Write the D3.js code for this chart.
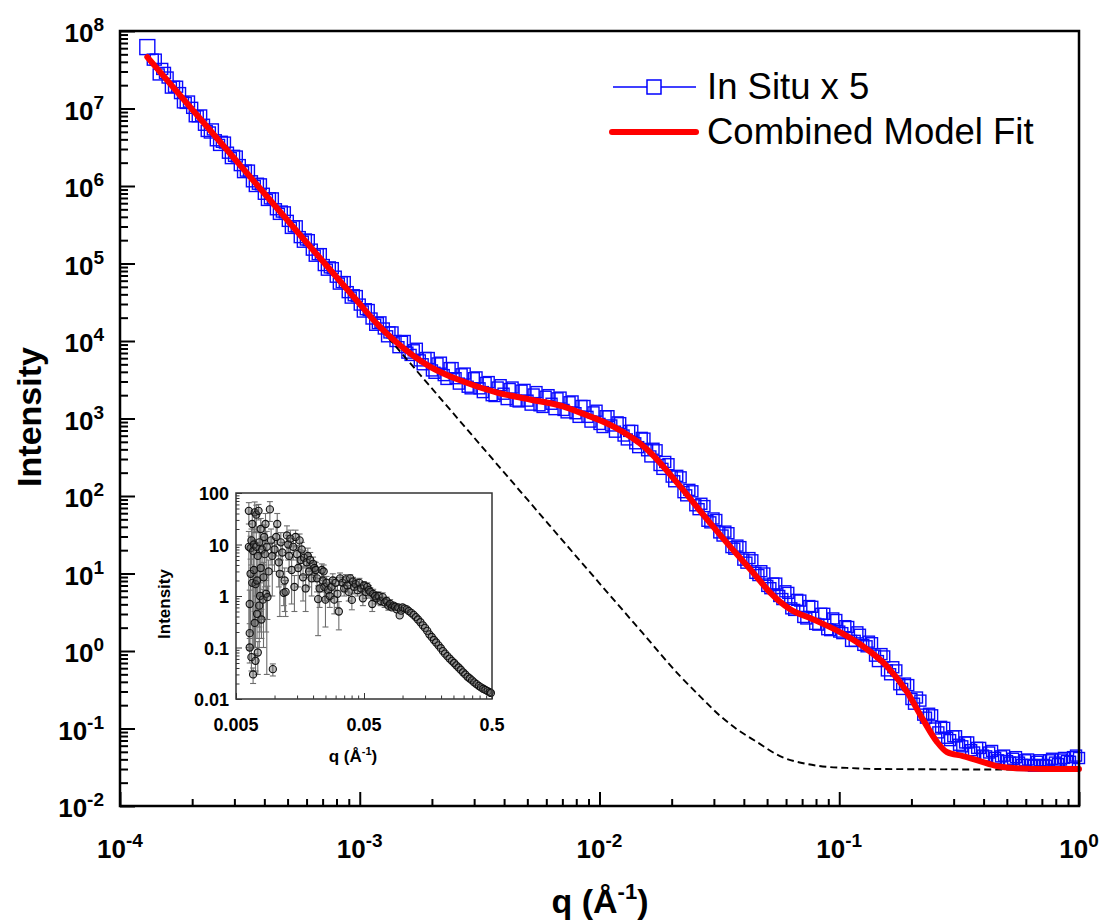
<!DOCTYPE html>
<html><head><meta charset="utf-8">
<script src="https://cdn.jsdelivr.net/npm/d3@7"></script>
<style>
body{margin:0;background:#fff}
svg{display:block}
text{font-family:"Liberation Sans",Arial,sans-serif}
</style>
</head><body>
<svg id="chart" width="1105" height="922"></svg>
<script>
// ---------------- data ----------------
const seriesNames = ["In Situ x 5", "Combined Model Fit"];

// In Situ x 5 (blue squares), first pass
const dataQ = [1.30e-4,1.41e-4,1.50e-4,1.58e-4,1.68e-4,1.78e-4,1.88e-4,2.00e-4,2.11e-4,2.24e-4,2.37e-4,
2.51e-4,2.66e-4,2.82e-4,2.99e-4,3.16e-4,3.35e-4,3.55e-4,3.76e-4,3.98e-4,4.22e-4,4.47e-4,4.73e-4,
5.01e-4,5.31e-4,5.62e-4,5.96e-4,6.31e-4,6.68e-4,7.08e-4,7.50e-4,7.94e-4,8.41e-4,8.91e-4,9.44e-4,
1.00e-3,1.06e-3,1.12e-3,1.19e-3,1.26e-3,1.33e-3,1.41e-3,1.50e-3,1.58e-3,1.68e-3,1.78e-3,1.88e-3,
2.00e-3,2.11e-3,2.24e-3,2.37e-3,2.51e-3,2.66e-3,2.82e-3,2.99e-3,3.16e-3,3.35e-3,3.55e-3,3.76e-3,
3.98e-3,4.22e-3,4.47e-3,4.73e-3,5.01e-3,5.31e-3,5.62e-3,5.96e-3,6.31e-3,6.68e-3,7.08e-3,7.50e-3,
7.94e-3,8.41e-3,8.91e-3,9.44e-3,1.00e-2,1.06e-2,1.12e-2,1.19e-2,1.26e-2,1.33e-2,1.41e-2,1.50e-2,
1.58e-2,1.68e-2,1.78e-2,1.88e-2,2.00e-2,2.11e-2,2.24e-2,2.37e-2,2.51e-2,2.66e-2,2.82e-2,2.99e-2,
3.16e-2,3.35e-2,3.55e-2,3.76e-2,3.98e-2,4.22e-2,4.47e-2,4.73e-2,5.01e-2,5.31e-2,5.62e-2,5.96e-2,
6.31e-2,6.68e-2,7.08e-2,7.50e-2,7.94e-2,8.41e-2,8.91e-2,9.44e-2,0.100,0.106,0.112,0.119,0.126,
0.133,0.141,0.150,0.158,0.168,0.178,0.188,0.200,0.211,0.224,0.237,0.251,0.266,0.282,0.299,0.316,
0.335,0.355,0.376,0.398,0.422,0.447,0.473,0.501,0.531,0.562,0.596,0.631,0.668,0.708,0.750,0.794,
0.841,0.891,0.944,1.00];
const dataI = [6.2e7,4.27e7,3.24e7,2.51e7,1.91e7,1.58e7,1.18e7,1.02e7,7.94e6,6.17e6,4.90e6,
3.89e6,3.72e6,2.69e6,2.45e6,1.86e6,1.58e6,1.15e6,1.07e6,7.94e5,6.92e5,5.01e5,4.68e5,
3.55e5,3.02e5,2.19e5,2.04e5,1.51e5,1.32e5,9.55e4,8.91e4,6.76e4,5.75e4,4.27e4,3.89e4,
2.95e4,2.57e4,1.95e4,1.70e4,1.45e4,1.29e4,1.00e4,9.77e3,7.08e3,7.59e3,5.62e3,6.03e3,
4.17e3,5.13e3,3.63e3,4.47e3,3.31e3,3.72e3,2.57e3,3.31e3,2.45e3,2.88e3,2.00e3,2.51e3,
2.09e3,2.40e3,1.70e3,2.29e3,1.70e3,2.04e3,1.48e3,1.91e3,1.55e3,1.82e3,1.29e3,1.62e3,
1.17e3,1.45e3,1.05e3,1.20e3,851,1070,813,891,603,692,479,562,
389,407,251,275,178,182,112,120,75.9,79.4,47.9,51.3,
33.9,34.7,21.9,22.9,15.1,15.8,10.2,10.7,6.92,7.41,5.13,5.89,
3.55,4.57,2.75,3.80,2.24,3.02,1.91,2.63,1.78,2.09,1.35,1.74,1.20,
1.32,0.871,0.912,0.562,0.617,0.372,0.380,0.240,0.251,0.151,0.155,0.100,0.105,0.0759,0.0794,0.0617,
0.0661,0.0525,0.0562,0.0447,0.0490,0.0417,0.0437,0.0380,0.0407,0.0363,0.0389,0.0339,0.0372,0.0339,0.0389,0.0363,
0.0398,0.0380,0.0427,0.0416];

// In Situ x 5, second (interleaved) pass
const dataQ2 = [1.37e-4,1.45e-4,1.54e-4,1.63e-4,1.73e-4,1.83e-4,1.94e-4,2.05e-4,2.18e-4,2.30e-4,2.44e-4,
2.59e-4,2.74e-4,2.90e-4,3.07e-4,3.26e-4,3.45e-4,3.65e-4,3.87e-4,4.10e-4,4.34e-4,4.60e-4,4.87e-4,
5.16e-4,5.46e-4,5.79e-4,6.13e-4,6.49e-4,6.88e-4,7.29e-4,7.72e-4,8.18e-4,8.66e-4,9.17e-4,9.72e-4,
1.03e-3,1.09e-3,1.16e-3,1.22e-3,1.30e-3,1.37e-3,1.45e-3,1.54e-3,1.63e-3,1.73e-3,1.83e-3,1.94e-3,
2.05e-3,2.18e-3,2.30e-3,2.44e-3,2.59e-3,2.74e-3,2.90e-3,3.07e-3,3.26e-3,3.45e-3,3.65e-3,3.87e-3,
4.10e-3,4.34e-3,4.60e-3,4.87e-3,5.16e-3,5.46e-3,5.79e-3,6.13e-3,6.49e-3,6.88e-3,7.29e-3,7.72e-3,
8.18e-3,8.66e-3,9.17e-3,9.72e-3,1.03e-2,1.09e-2,1.16e-2,1.22e-2,1.30e-2,1.37e-2,1.45e-2,1.54e-2,
1.63e-2,1.73e-2,1.83e-2,1.94e-2,2.05e-2,2.18e-2,2.30e-2,2.44e-2,2.59e-2,2.74e-2,2.90e-2,3.07e-2,
3.26e-2,3.45e-2,3.65e-2,3.87e-2,4.10e-2,4.34e-2,4.60e-2,4.87e-2,5.16e-2,5.46e-2,5.79e-2,6.13e-2,
6.49e-2,6.88e-2,7.29e-2,7.72e-2,8.18e-2,8.66e-2,9.17e-2,9.72e-2,0.103,0.109,0.116,0.122,0.130,
0.137,0.145,0.154,0.163,0.173,0.183,0.194,0.205,0.218,0.230,0.244,0.259,0.274,0.290,0.307,0.326,
0.345,0.365,0.387,0.410,0.434,0.460,0.487,0.516,0.546,0.579,0.613,0.649,0.688,0.729,0.772,0.818,
0.866,0.917,0.972];
const dataI2 = [4.27e7,2.75e7,2.88e7,1.86e7,1.91e7,1.20e7,1.23e7,7.94e6,8.13e6,5.13e6,5.37e6,
3.39e6,3.63e6,2.29e6,2.40e6,1.51e6,1.58e6,1.00e6,1.05e6,6.61e5,6.92e5,4.37e5,4.57e5,
2.88e5,3.02e5,1.91e5,2.00e5,1.26e5,1.32e5,8.32e4,8.71e4,5.50e4,5.75e4,3.63e4,3.80e4,
2.40e4,2.51e4,1.62e4,1.74e4,1.15e4,1.29e4,8.32e3,1.00e4,6.61e3,7.94e3,5.01e3,6.03e3,
3.89e3,5.25e3,3.24e3,4.47e3,2.82e3,3.80e3,2.45e3,3.39e3,2.19e3,2.95e3,1.95e3,2.69e3,
1.78e3,2.51e3,1.66e3,2.34e3,1.51e3,2.19e3,1.41e3,2.00e3,1.32e3,1.86e3,1.20e3,1.66e3,
1.05e3,1.45e3,912,1260,776,1070,676,871,537,692,427,550,
324,389,224,257,155,174,102,115,67.6,74.1,45.7,49.0,
30.9,33.1,20.9,21.9,13.8,14.8,9.55,10.0,6.46,7.41,4.68,5.62,
3.39,4.47,2.63,3.72,2.19,3.02,1.86,2.51,1.70,2.04,1.35,1.62,1.15,
1.26,0.741,0.851,0.501,0.562,0.324,0.363,0.209,0.229,0.138,0.148,0.0891,0.102,0.0708,0.0794,0.0589,
0.0661,0.0490,0.0562,0.0437,0.0513,0.0389,0.0447,0.0363,0.0427,0.0339,0.0398,0.0331,0.0389,0.0331,0.0407,0.0347,
0.0417,0.0372,0.0447];

// Combined Model Fit (red line)
const fitQ = [1.30e-4,3.0e-4,6.0e-4,9.74e-4,1.2e-3,1.43e-3,1.96e-3,2.70e-3,3.74e-3,5.13e-3,7.05e-3,8.3e-3,
1.14e-2,1.58e-2,2.17e-2,2.81e-2,3.50e-2,4.36e-2,5.14e-2,6.24e-2,7.76e-2,0.1007,0.1256,0.158,0.192,0.223,
0.256,0.281,0.328,0.386,0.455,0.531,0.736,1.0];
const fitI = [4.6e7,2.26e6,1.87e5,3.3e4,1.58e4,9.5e3,4.68e3,3.0e3,2.16e3,1.76e3,1.43e3,1.19e3,
789,399,133,49.9,22.4,10.4,5.72,3.46,2.57,1.75,1.15,0.637,0.294,0.132,
0.0668,0.0497,0.0441,0.038,0.0327,0.0309,0.030,0.030];

// power-law + background component (dashed)
const baseQ = [1.0e-3,5.0e-3,1.0e-2,1.5e-2,2.17e-2,2.62e-2,3.19e-2,3.74e-2,4.54e-2,5.66e-2,7.35e-2,9.15e-2,0.1075,0.148,1.0];
const baseI = [2.96e4,90.2,7.47,1.76,0.473,0.262,0.145,0.098,0.0668,0.044,0.0348,0.0318,0.031,0.030,0.0294];

// inset data
const insetQ = [0.0063,0.0063,0.0064,0.0064,0.0064,0.0065,0.0065,0.0066,0.0066,0.0067,0.0067,0.0068,0.0068,
0.0069,0.0069,0.0070,0.0070,0.0071,0.0071,0.0072,0.0072,0.0073,0.0073,0.0074,0.0074,0.0075,0.0076,0.0076,
0.0077,0.0078,0.0078,0.0079,0.0080,0.0081,0.0082,0.0083,0.0084,0.0085,0.0086,0.0087,0.0088,0.0090,0.0092,
0.0094,0.0096,0.0097,0.0100,0.0103,0.0105,0.0108,0.0110,0.0112,0.0115,0.0118,0.0120,0.0122,0.0125,0.0128,
0.0130,0.0133,0.0136,0.0140,0.0143,0.0146,0.0150,0.0153,0.0157,0.0160,0.0163,0.0167,0.0170,0.0175,0.0178,
0.0182,0.0186,0.0190,0.0195,0.0200,0.0205,0.0210,0.0215,0.0219,0.0225,0.0234,0.0238,0.0242,0.0245,0.0250,
0.0255,0.0262,0.0270,0.0278,0.0285,0.0293,0.0300,0.0310,0.0318,0.0325,0.0340,0.0350,0.0360,0.0370,0.0380,
0.0390,0.0402,0.0410,0.0420,0.0430,0.0445,0.0460,0.0475,0.0490,0.0500,0.0515,0.0530,0.0545,0.0560,0.0580,
0.0590,0.0610,0.0625,0.0650,0.0675,0.0700,0.0725,0.0750,0.0775,0.0800,0.0825,0.0850,0.0875,0.0900,0.0925,
0.0950,0.0975,0.100,0.104,0.108,0.112,0.117,0.122,0.127,0.132,0.138,0.144,0.150,0.156,0.162,0.169,0.176,
0.183,0.191,0.199,0.207,0.215,0.224,0.233,0.243,0.253,0.263,0.274,0.285,0.297,0.309,0.322,0.335,0.349,
0.363,0.378,0.394,0.410,0.427,0.444,0.462,0.480,0.490];
const insetI = [45,9,0.7,0.19,0.1,2.7,8.5,0.065,12,25,1.8,7.5,0.03,
3.2,10,42,0.3,0.055,1.7,9,38,0.45,2.0,0.08,6,45,11,0.65,
1.0,20,3.5,0.35,8,0.85,2.3,14,6.5,25,1.1,9,0.95,3,48,
12,6,0.038,8,14,25,4.5,2.7,11,7,1.15,2.0,1.2,15,10,
6,13,3.2,9,1.5,14,6.5,3.5,12,5,8,2.3,5.5,1.4,4.5,
6,3,5,2.2,4.2,3.5,3.2,2.2,0.87,1.4,3.2,2.0,3.0,1.5,0.85,
1.8,1.3,1.0,1.5,2.0,0.85,1.8,1.1,0.5,2.2,1.8,1.4,2.1,1.6,1.2,
2.2,0.84,1.9,1.5,1.7,1.3,1.8,1.4,0.9,1.6,1.2,1.5,1.3,1.2,0.7,
1.1,1.0,0.9,1.0,0.8,0.95,0.75,0.8,0.65,0.7,0.6,0.65,0.62,0.55,0.6,
0.42,0.52,0.60,0.57,0.55,0.51,0.47,0.43,0.39,0.35,0.31,0.27,0.24,0.21,0.18,0.16,0.14,
0.125,0.11,0.097,0.085,0.076,0.068,0.061,0.055,0.050,0.045,0.041,0.037,0.033,0.030,0.027,0.025,0.023,
0.021,0.0195,0.018,0.0168,0.0158,0.015,0.0142,0.0136,0.0131];
const insetErr = [20,8.9,0.6,0.1,0.05,2.5,6,0.03,8,15,1.7,5,0.01,
3.1,9.9,25,0.2,0.02,1.6,8,20,0.3,1.5,0.05,5,15,10.9,0.4,
0.8,12,3,0.2,6,0.5,2.2,10,5,15,0.9,8.97,0.6,2,20,
8,5,0.01,5,8,15,3,2.3,6,4,0.5,1.5,0.8,8,5,
3,6,2.5,4,1,5,3,2,4,2.5,3,1.5,2,0.9,2,
2.5,1.5,2,1.2,1.5,1.2,1.3,1,0.7,0.8,1,0.8,1,0.7,0.6,
0.6,0.5,0.4,0.6,0.7,0.4,0.5,0.5,0.28,0.6,0.5,0.4,0.5,0.4,0.4,
0.4,0.3,0.4,0.4,0.4,0.3,0.4,0.3,0.25,0.3,0.3,0.3,0.3,0.25,0.2,
0.25,0.2,0.2,0.2,0.15,0.2,0.15,0.15,0.12,0.15,0.1,0.1,0.08,0.08,0.06,
0.07,0.05,0.03,0.03,0.025,0.02,0.02,0.015,0.015,0.01,0.01,0.01,0.008,0.007,0.006,0.005,0.005,
0.004,0.004,0.003,0.003,0.003,0.002,0.002,0.002,0.002,0.002,0.001,0.001,0.001,0.001,0.001,0.001,0.001,
0.001,0.001,0.001,0.001,0.001,0.001,0.001,0.001,0.001];

// ticks
const xExponents = [-4,-3,-2,-1,0];
const yExponents = [-2,-1,0,1,2,3,4,5,6,7,8];
const insetYTicks = [0.01,0.1,1,10,100];
const insetYLabels = ["0.01","0.1","1","10","100"];
const insetXTicks = [0.005,0.05,0.5];
const insetXLabels = ["0.005","0.05","0.5"];
const insetXMinor = [0.01,0.015,0.02,0.025,0.03,0.035,0.04,0.045,0.1,0.15,0.2,0.25,0.3,0.35,0.4,0.45];

// ---------------- drawing ----------------
const svg = d3.select("#chart");
const L=120, R=1079, T=31, B=806;
const x = d3.scaleLog().domain([1e-4,1]).range([L,R]);
const y = d3.scaleLog().domain([1e-2,1e8]).range([B,T]);

function minorsOf(exps){
  const out=[];
  for(let i=0;i<exps.length-1;i++) for(let k=2;k<=9;k++) out.push(k*Math.pow(10,exps[i]));
  return out;
}
const xMajor = xExponents.map(e=>Math.pow(10,e));
const yMajor = yExponents.map(e=>Math.pow(10,e));

function styleAxis(g,w){
  g.select(".domain").remove();
  g.selectAll(".tick line").attr("stroke","#000").attr("stroke-width",w);
  g.selectAll(".tick text").remove();
}
svg.append("g").attr("transform",`translate(0,${B})`)
  .call(d3.axisBottom(x).tickValues(xMajor).tickSize(-14).tickFormat(""))
  .call(g=>styleAxis(g,2));
svg.append("g").attr("transform",`translate(0,${B})`)
  .call(d3.axisBottom(x).tickValues(minorsOf(xExponents)).tickSize(-7).tickFormat(""))
  .call(g=>styleAxis(g,2));
svg.append("g").attr("transform",`translate(${L},0)`)
  .call(d3.axisLeft(y).tickValues(yMajor).tickSize(-15).tickFormat(""))
  .call(g=>styleAxis(g,2));
svg.append("g").attr("transform",`translate(${L},0)`)
  .call(d3.axisLeft(y).tickValues(minorsOf(yExponents)).tickSize(-8).tickFormat(""))
  .call(g=>styleAxis(g,2));

// tick labels
xExponents.forEach(e=>{
  const t = svg.append("text").attr("x",x(Math.pow(10,e))).attr("y",858)
    .attr("text-anchor","middle").attr("font-weight","bold").attr("font-size",26).attr("fill","#000");
  t.append("tspan").text("10");
  t.append("tspan").attr("dy",-11).attr("font-size",19).text(String(e));
});
yExponents.forEach(e=>{
  const t = svg.append("text").attr("x",104).attr("y",y(Math.pow(10,e))+11)
    .attr("text-anchor","end").attr("font-weight","bold").attr("font-size",26).attr("fill","#000");
  t.append("tspan").text("10");
  t.append("tspan").attr("dy",-11).attr("font-size",19).text(String(e));
});

// axis titles
svg.append("text").attr("transform","translate(41,417) rotate(-90)")
  .attr("text-anchor","middle").attr("font-weight","bold").attr("font-size",34).text("Intensity");
const xt = svg.append("text").attr("x",600).attr("y",913).attr("text-anchor","middle")
  .attr("font-weight","bold").attr("font-size",34);
xt.append("tspan").text("q (Å");
xt.append("tspan").attr("dy",-14).attr("font-size",22).text("-1");
xt.append("tspan").attr("dy",14).text(")");

// data
const pts = dataQ.map((q,i)=>({q,I:dataI[i],big:i===0}))
  .concat(dataQ2.map((q,i)=>({q,I:dataI2[i],big:false})));
const SQ = 11;
const plot = svg.append("g");
plot.selectAll("rect.pt").data(pts).enter()
  .append("rect").attr("class","pt")
  .attr("x",d=>x(d.q)-(d.big?7.5:SQ/2)).attr("y",d=>y(d.I)-(d.big?7.5:SQ/2))
  .attr("width",d=>d.big?15:SQ).attr("height",d=>d.big?15:SQ)
  .attr("fill","none").attr("stroke","#0a0aff").attr("stroke-width",1.4);

const line = d3.line().x(d=>x(d[0])).y(d=>y(d[1])).curve(d3.curveMonotoneX);
plot.append("path").datum(baseQ.map((q,i)=>[q,baseI[i]])).attr("d",line)
  .attr("fill","none").attr("stroke","#000").attr("stroke-width",1.9).attr("stroke-dasharray","7,4");
plot.append("path").datum(fitQ.map((q,i)=>[q,fitI[i]])).attr("d",line)
  .attr("fill","none").attr("stroke","#ff0000").attr("stroke-width",6).attr("stroke-linejoin","round").attr("stroke-linecap","round");

// frame
svg.append("rect").attr("x",L).attr("y",T).attr("width",R-L).attr("height",B-T)
  .attr("fill","none").attr("stroke","#000").attr("stroke-width",2.5);

// legend
const lg = svg.append("g");
lg.append("line").attr("x1",613).attr("x2",696).attr("y1",87).attr("y2",87).attr("stroke","#0000ff").attr("stroke-width",1.5);
lg.append("rect").attr("x",647).attr("y",80).attr("width",14).attr("height",14).attr("fill","#fff").attr("stroke","#0000ff").attr("stroke-width",1.5);
lg.append("text").attr("x",707).attr("y",99).attr("font-size",36.5).text(seriesNames[0]);
lg.append("line").attr("x1",612).attr("x2",696).attr("y1",132).attr("y2",132).attr("stroke","#ff0000").attr("stroke-width",6).attr("stroke-linecap","round");
lg.append("text").attr("x",707).attr("y",144).attr("font-size",36.5).text(seriesNames[1]);

// ---------------- inset ----------------
const iL=236, iR=492, iT=493, iB=699;
const ix = d3.scaleLog().domain([0.005,0.5]).range([iL,iR]);
const iy = d3.scaleLog().domain([0.01,100]).range([iB,iT]);
const inset = svg.append("g");
inset.append("rect").attr("x",iL).attr("y",iT).attr("width",iR-iL).attr("height",iB-iT).attr("fill","#fff");

function styleInset(g){
  g.select(".domain").remove();
  g.selectAll(".tick line").attr("stroke","#333").attr("stroke-width",1);
  g.selectAll(".tick text").remove();
}
inset.append("g").attr("transform",`translate(0,${iB})`)
  .call(d3.axisBottom(ix).tickValues(insetXTicks).tickSize(-6).tickFormat("")).call(styleInset);
inset.append("g").attr("transform",`translate(0,${iB})`)
  .call(d3.axisBottom(ix).tickValues(insetXMinor).tickSize(-3.5).tickFormat("")).call(styleInset);
inset.append("g").attr("transform",`translate(${iL},0)`)
  .call(d3.axisLeft(iy).tickValues(insetYTicks).tickSize(-6).tickFormat("")).call(styleInset);
inset.append("g").attr("transform",`translate(${iL},0)`)
  .call(d3.axisLeft(iy).tickValues(minorsOf([-2,-1,0,1,2])).tickSize(-3.5).tickFormat("")).call(styleInset);

const ipts = insetQ.map((q,i)=>({q,I:insetI[i],e:insetErr[i]}));
const eb = inset.append("g").attr("stroke","#6e6e6e").attr("stroke-width",1.1);
ipts.forEach(d=>{
  const lo = Math.max(d.I-d.e, 0.0101), hi = Math.min(d.I+d.e, 100);
  const cx = ix(d.q);
  if (iy(lo)-iy(hi) < 8) return;
  eb.append("line").attr("x1",cx).attr("x2",cx).attr("y1",iy(lo)).attr("y2",iy(hi));
  eb.append("line").attr("x1",cx-3).attr("x2",cx+3).attr("y1",iy(hi)).attr("y2",iy(hi));
  if (d.I-d.e > 0.0101) eb.append("line").attr("x1",cx-3).attr("x2",cx+3).attr("y1",iy(lo)).attr("y2",iy(lo));
});
inset.selectAll("circle").data(ipts).enter().append("circle")
  .attr("cx",d=>ix(d.q)).attr("cy",d=>iy(d.I)).attr("r",3.6)
  .attr("fill","rgba(90,90,90,0.4)").attr("stroke","#111").attr("stroke-width",1.1);

inset.append("rect").attr("x",iL).attr("y",iT).attr("width",iR-iL).attr("height",iB-iT)
  .attr("fill","none").attr("stroke","#333").attr("stroke-width",1.5);

insetYTicks.forEach((v,i)=>{
  inset.append("text").attr("x",229).attr("y",iy(v)+7).attr("text-anchor","end")
    .attr("font-weight","bold").attr("font-size",18).text(insetYLabels[i]);
});
insetXTicks.forEach((v,i)=>{
  inset.append("text").attr("x",ix(v)).attr("y",731).attr("text-anchor","middle")
    .attr("font-weight","bold").attr("font-size",18).text(insetXLabels[i]);
});
inset.append("text").attr("transform","translate(170,604) rotate(-90)").attr("text-anchor","middle")
  .attr("font-weight","bold").attr("font-size",17).text("Intensity");
const ixt = inset.append("text").attr("x",353).attr("y",762).attr("text-anchor","middle")
  .attr("font-weight","bold").attr("font-size",17);
ixt.append("tspan").text("q (Å");
ixt.append("tspan").attr("dy",-7).attr("font-size",11).text("-1");
ixt.append("tspan").attr("dy",7).text(")");
</script>
</body></html>
